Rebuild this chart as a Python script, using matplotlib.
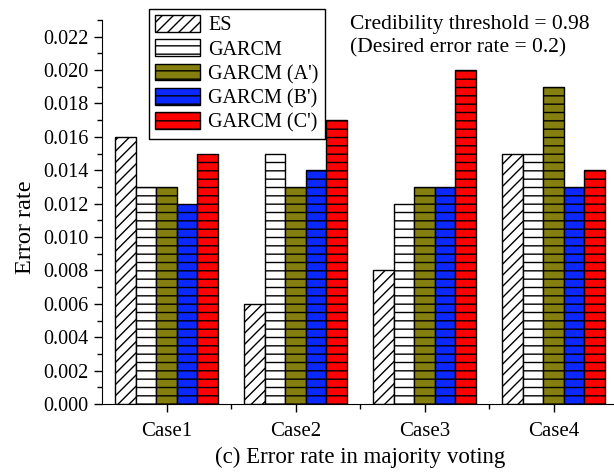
import numpy as np
import matplotlib.pyplot as plt
from matplotlib.ticker import MultipleLocator, FormatStrFormatter

plt.rcParams['font.family'] = ['Liberation Serif', 'DejaVu Serif']
plt.rcParams['font.size'] = 14.5

cases = ['Case1', 'Case2', 'Case3', 'Case4']
labels = ['ES', 'GARCM', "GARCM (A')", "GARCM (B')", "GARCM (C')"]
es     = [0.016, 0.006, 0.008, 0.015]
garcm  = [0.013, 0.015, 0.012, 0.015]
garc_a = [0.013, 0.013, 0.013, 0.019]
garc_b = [0.012, 0.014, 0.013, 0.013]
garc_c = [0.015, 0.017, 0.020, 0.014]

series = [es, garcm, garc_a, garc_b, garc_c]
colors = ['white', 'white', '#857f10', '#0a28ff', '#ff0000']
hatches = ['///', '--', '--', '--', '--']

fig = plt.figure(figsize=(6.14, 4.74), dpi=100)
ax = fig.add_axes([102/614, 70/474, 516/614, 384/474])

x = np.arange(1, len(cases) + 1)
w = 0.16
for i, vals in enumerate(series):
    ax.bar(x + (i - 2) * w, vals, width=w, color=colors[i], edgecolor='black',
           hatch=hatches[i], linewidth=1.0, label=labels[i])

ax.set_xlim(0.5, 4.5)
ax.set_ylim(0, 0.023)
ax.set_xticks(x)
ax.set_xticklabels(cases, fontsize=15)
ax.xaxis.set_minor_locator(plt.FixedLocator([1.5, 2.5, 3.5]))
ax.yaxis.set_major_locator(MultipleLocator(0.002))
ax.yaxis.set_minor_locator(MultipleLocator(0.001))
ax.yaxis.set_major_formatter(FormatStrFormatter('%.3f'))

for s in ['top', 'right']:
    ax.spines[s].set_visible(False)
ax.tick_params(which='major', direction='out', length=6, width=1)
ax.tick_params(which='minor', direction='out', length=3.5, width=1)
ax.tick_params(axis='x', which='major', pad=7)

ax.set_ylabel('Error rate', fontsize=17.5)
ax.yaxis.set_label_coords(-0.128, 0.46)
ax.set_xlabel('(c) Error rate in majority voting', fontsize=16.5, labelpad=4)

leg = ax.legend(loc='upper left', bbox_to_anchor=(149/614, 1 - 9/474),
                bbox_transform=fig.transFigure, borderaxespad=0,
                fancybox=False, framealpha=1, edgecolor='black',
                handlelength=2.25, handleheight=0.9, handletextpad=0.4,
                labelspacing=0.2, borderpad=0.3)
leg.get_frame().set_linewidth(1.0)

fig.text(350/614, 1 - 15/474, 'Credibility threshold = 0.98\n(Desired error rate = 0.2)',
         ha='left', va='top', fontsize=15.5, linespacing=1.3)

fig.savefig('out.png', dpi=100)
